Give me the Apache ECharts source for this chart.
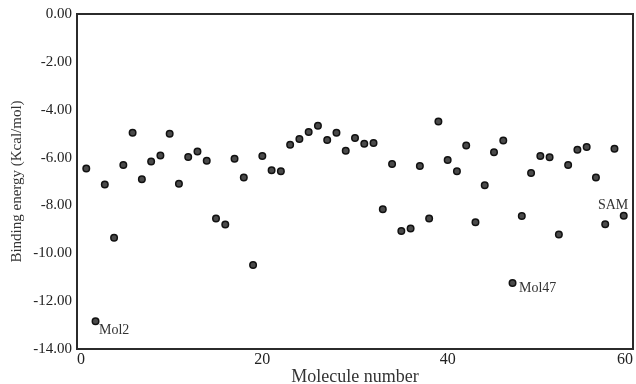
<!DOCTYPE html>
<html>
<head>
<meta charset="utf-8">
<script src="https://cdn.jsdelivr.net/npm/echarts@6/dist/echarts.min.js"></script>
<style>
  html, body { margin: 0; padding: 0; background: #fff; }
  #chart { width: 636px; height: 384px; }
</style>
</head>
<body>
<div id="chart"></div>
<script>
// molecule numbers (x) and docking scores (y)
const moleculeNo = [
  1, 2, 3, 4, 5, 6, 7, 8, 9, 10, 11, 12, 13, 14, 15, 16, 17, 18, 19, 20,
  21, 22, 23, 24, 25, 26, 27, 28, 29, 30, 31, 32, 33, 34, 35, 36, 37, 38, 39, 40,
  41, 42, 43, 44, 45, 46, 47, 48, 49, 50, 51, 52, 53, 54, 55, 56, 57, 58, 59
];
const bindingEnergy = [
  -6.46, -12.84, -7.13, -9.35, -6.31, -4.96, -6.91, -6.16, -5.91, -5.00,
  -7.09, -5.98, -5.75, -6.13, -8.55, -8.80, -6.05, -6.83, -10.49, -5.93,
  -6.53, -6.57, -5.46, -5.22, -4.93, -4.67, -5.27, -4.96, -5.71, -5.18,
  -5.42, -5.39, -8.16, -6.27, -9.07, -8.96, -6.35, -8.55, -4.49, -6.10,
  -6.57, -5.50, -8.70, -7.16, -5.78, -5.29, -11.24, -8.44, -6.64, -5.93,
  -5.99, -9.22, -6.31, -5.67, -5.56, -6.83, -8.79, -5.63, -8.43
];
const xTicks = [0, 20, 40, 60];
const yTicks = [0, -2, -4, -6, -8, -10, -12, -14];
// annotated molecules
const labelMols = [2, 47, 59];
const labelTexts = ["Mol2", "Mol47", "SAM"];

const labelStyles = {
  Mol2: { position: [7.5, 13.5], align: "left" },
  Mol47: { position: [10.5, 9.5], align: "left" },
  SAM: { position: [8.5, -6.5], align: "right" },
};

const seriesData = moleculeNo.map((m, i) => {
  const item = { value: [m, bindingEnergy[i]] };
  const k = labelMols.indexOf(m);
  if (k >= 0) {
    const txt = labelTexts[k];
    item.label = {
      show: true,
      formatter: txt,
      position: labelStyles[txt].position,
      align: labelStyles[txt].align,
      verticalAlign: "middle",
      fontFamily: "Liberation Serif",
      fontSize: 14,
      color: "#333",
    };
  }
  return item;
});

const chart = echarts.init(document.getElementById("chart"));
const font = "Liberation Serif";

chart.setOption({
  animation: false,
  grid: {
    left: 77,
    right: 3,
    top: 14,
    bottom: 35,
    outerBoundsMode: "none",
    containLabel: false,
    show: true,
    borderColor: "#2b2b2b",
    borderWidth: 2,
  },
  xAxis: {
    type: "value",
    min: xTicks[0],
    max: xTicks[xTicks.length - 1],
    interval: 20,
    name: "Molecule number",
    nameLocation: "middle",
    nameGap: 19,
    nameMoveOverlap: false,
    nameTextStyle: { fontFamily: font, fontSize: 18, color: "#333" },
    axisLine: { show: true, lineStyle: { color: "#2b2b2b", width: 2 } },
    axisTick: { show: false },
    splitLine: { show: false },
    axisLabel: {
      margin: 3,
      fontFamily: font,
      fontSize: 16,
      color: "#222",
      alignMinLabel: "left",
      alignMaxLabel: "right",
    },
  },
  yAxis: {
    type: "value",
    min: yTicks[yTicks.length - 1],
    max: yTicks[0],
    interval: 2,
    name: "Binding energy (Kcal/mol)",
    nameLocation: "middle",
    nameRotate: 90,
    nameGap: 52,
    nameMoveOverlap: false,
    nameTextStyle: { fontFamily: font, fontSize: 15, color: "#333" },
    axisLine: { show: true, lineStyle: { color: "#2b2b2b", width: 2 } },
    axisTick: { show: false },
    splitLine: { show: false },
    axisLabel: {
      margin: 5,
      fontFamily: font,
      fontSize: 15,
      color: "#222",
      formatter: (v) => v.toFixed(2),
    },
  },
  series: [
    {
      type: "scatter",
      symbol: "circle",
      symbolSize: 6.5,
      itemStyle: {
        color: "#4a4a4a",
        borderColor: "#111",
        borderWidth: 1.5,
        opacity: 1,
      },
      data: seriesData,
    },
  ],
});
</script>
</body>
</html>
